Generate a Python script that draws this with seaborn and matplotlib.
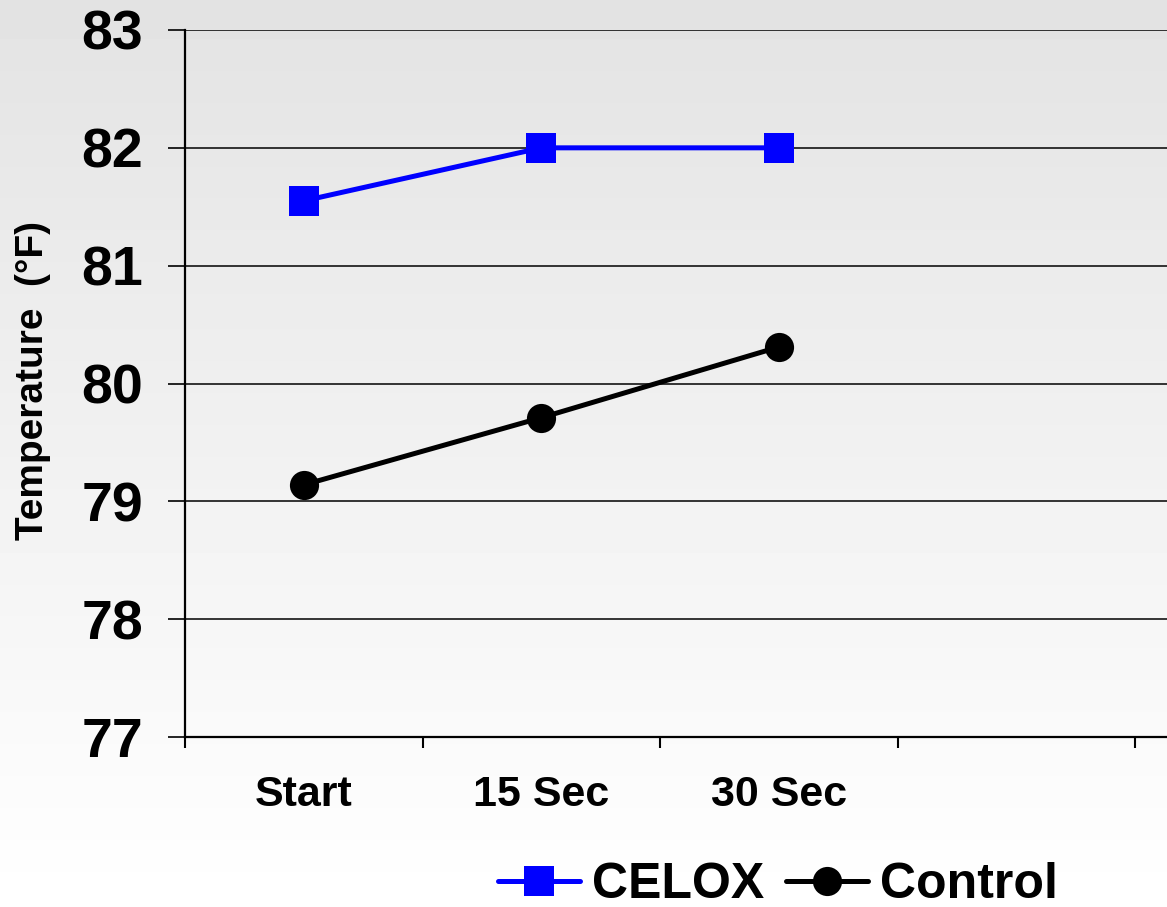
import numpy as np
import pandas as pd
import matplotlib.pyplot as plt
from matplotlib.lines import Line2D
import seaborn as sns

# data
categories = ["Start", "15 Sec", "30 Sec"]
celox = [81.55, 82.0, 82.0]
control = [79.14, 79.71, 80.31]

df = pd.DataFrame({
    "pos": list(range(len(categories))) * 2,
    "temp": celox + control,
    "group": ["CELOX"] * 3 + ["Control"] * 3,
})

sns.set_style("white")
plt.rcParams["font.family"] = ["Liberation Sans", "DejaVu Sans"]
plt.rcParams["font.weight"] = "bold"
plt.rcParams["text.color"] = "black"
plt.rcParams["xtick.color"] = "black"
plt.rcParams["ytick.color"] = "black"
plt.rcParams["axes.labelcolor"] = "black"

fig = plt.figure(figsize=(11.67, 9.07), dpi=100)

# gray-to-white background
bg = fig.add_axes([0, 0, 1, 1], zorder=-10)
grad = np.linspace(0.89, 1.0, 256).reshape(-1, 1)
bg.imshow(grad, aspect="auto", cmap="gray", vmin=0, vmax=1, extent=[0, 1, 0, 1], origin="upper")
bg.axis("off")

ax = fig.add_axes([185 / 1167, 1 - 737 / 907, 1 - 185 / 1167, (737 - 30) / 907])
ax.patch.set_alpha(0)

sns.lineplot(data=df, x="pos", y="temp", hue="group", style="group",
             palette={"CELOX": "#0000ff", "Control": "black"},
             markers={"CELOX": "s", "Control": "o"}, dashes=False,
             linewidth=3.6, markersize=21, markeredgewidth=0,
             legend=False, ax=ax)

ax.set_ylim(77, 83)
ax.set_xlim(-0.5, 3.634)
ax.set_yticks(range(77, 84))
ax.set_yticklabels([str(v) for v in range(77, 84)], fontsize=40, fontweight="bold")
ax.tick_params(axis="y", direction="out", length=12, width=1.2, colors="black", pad=18, left=True)

ax.set_xticks([-0.5, 0.5, 1.5, 2.5, 3.5])
ax.set_xticklabels([])
ax.tick_params(axis="x", which="major", direction="out", length=8, width=1.5, colors="black", bottom=True)
ax.set_xticks(range(len(categories)), minor=True)
ax.set_xticklabels(categories, minor=True, fontsize=31, fontweight="bold")
ax.tick_params(axis="x", which="minor", length=0, pad=27)

ax.grid(axis="y", color="black", linewidth=1.1)
ax.set_axisbelow(True)
for side in ["top", "right"]:
    ax.spines[side].set_visible(False)
for side in ["left", "bottom"]:
    ax.spines[side].set_color("black")
    ax.spines[side].set_linewidth(1.6)

ax.set_xlabel("")
ax.set_ylabel("")
fig.text(33 / 1167, 1 - 380 / 907, "Temperature  (°F)", rotation=90, ha="center", va="center",
         fontsize=28, fontweight="bold", color="black")

handles = [
    Line2D([], [], color="#0000ff", marker="s", markersize=21, markeredgewidth=0, linewidth=3.6),
    Line2D([], [], color="black", marker="o", markersize=21, markeredgewidth=0, linewidth=3.6),
]
fig.legend(handles, ["CELOX", "Control"], loc="center", bbox_to_anchor=(778 / 1167, 1 - 885 / 907),
           ncol=2, frameon=False, prop={"weight": "bold", "size": 36},
           handlelength=1.64, handletextpad=0.24, columnspacing=0.42, borderpad=0, borderaxespad=0)

fig.savefig("out.png", dpi=100)
